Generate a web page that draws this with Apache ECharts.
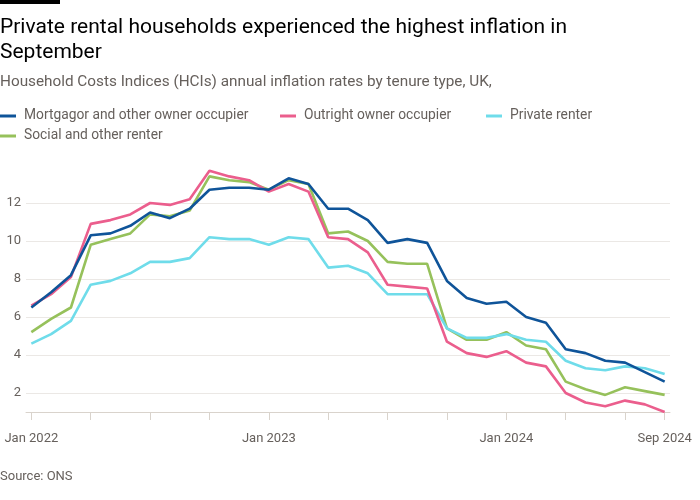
<!DOCTYPE html>
<html><head><meta charset="utf-8">
<script src="https://cdn.jsdelivr.net/npm/echarts@6/dist/echarts.min.js"></script>
<style>html,body{margin:0;padding:0;background:#fff}#c{width:700px;height:500px}</style>
</head><body><div id="c"></div>
<script>
const months = ["Jan 2022","Feb 2022","Mar 2022","Apr 2022","May 2022","Jun 2022","Jul 2022","Aug 2022","Sep 2022","Oct 2022","Nov 2022","Dec 2022",
"Jan 2023","Feb 2023","Mar 2023","Apr 2023","May 2023","Jun 2023","Jul 2023","Aug 2023","Sep 2023","Oct 2023","Nov 2023","Dec 2023",
"Jan 2024","Feb 2024","Mar 2024","Apr 2024","May 2024","Jun 2024","Jul 2024","Aug 2024","Sep 2024"];
const mortgagor = [6.5,7.3,8.2,10.3,10.4,10.8,11.5,11.2,11.7,12.7,12.8,12.8,12.7,13.3,13.0,11.7,11.7,11.1,9.9,10.1,9.9,7.9,7.0,6.7,6.8,6.0,5.7,4.3,4.1,3.7,3.6,3.1,2.6];
const outright = [6.6,7.2,8.1,10.9,11.1,11.4,12.0,11.9,12.2,13.7,13.4,13.2,12.6,13.0,12.6,10.2,10.1,9.4,7.7,7.6,7.5,4.7,4.1,3.9,4.2,3.6,3.4,2.0,1.5,1.3,1.6,1.4,1.0];
const privateRenter = [4.6,5.1,5.8,7.7,7.9,8.3,8.9,8.9,9.1,10.2,10.1,10.1,9.8,10.2,10.1,8.6,8.7,8.3,7.2,7.2,7.2,5.4,4.9,4.9,5.1,4.8,4.7,3.7,3.3,3.2,3.4,3.3,3.0];
const social = [5.2,5.9,6.5,9.8,10.1,10.4,11.4,11.3,11.6,13.4,13.2,13.1,12.7,13.2,13.0,10.4,10.5,10.0,8.9,8.8,8.8,5.4,4.8,4.8,5.2,4.5,4.3,2.6,2.2,1.9,2.3,2.1,1.9];
const yTicks = [2,4,6,8,10,12];
const xTickIdx = [0,3,6,9,12,15,18,21,24,27,30,32];
const xLabelIdx = [0,12,24,32];
const seriesNames = ["Mortgagor and other owner occupier","Outright owner occupier","Private renter","Social and other renter"];
const colors = ["#0f5499","#eb5e8d","#6fdcea","#96c15b"];
const seriesData = [mortgagor, outright, privateRenter, social];
const zOrder = [5,4,3,2];

const FONT = 'Roboto';
const grey = '#66605c';
const chart = echarts.init(document.getElementById('c'));
const legendLefts = [[0,109],[280,109],[486,109],[0,129]];
chart.setOption({
  animation:false,
  backgroundColor:'#fff',
  textStyle:{fontFamily:FONT},
  graphic:[{type:'rect',shape:{x:0,y:0,width:60,height:4},style:{fill:'#000'}}],
  title:[
    {text:'Private rental households experienced the highest inflation in\nSeptember',left:0,top:15,padding:0,
     textStyle:{fontFamily:FONT,fontSize:21,fontWeight:'normal',color:'#000',lineHeight:25}},
    {text:'Household Costs Indices (HCIs) annual inflation rates by tenure type, UK,',left:0,top:75,padding:0,
     textStyle:{fontFamily:FONT,fontSize:15.3,fontWeight:'normal',color:grey}},
    {text:'Source: ONS',left:0,top:470,padding:0,textStyle:{fontFamily:FONT,fontSize:13,fontWeight:'normal',color:grey}}
  ],
  legend: seriesNames.map((n,i)=>({data:[n],left:legendLefts[i][0],top:legendLefts[i][1],padding:0,
    icon:'rect',itemWidth:16,itemHeight:3,itemGap:0,
    textStyle:{fontFamily:FONT,fontSize:13.8,color:grey,padding:[0,0,0,3]}})),
  grid:{left:26,right:30,top:165,bottom:88,outerBoundsMode:'none',containLabel:false},
  xAxis:{type:'value',min:-0.27,max:32.27,
    axisLine:{show:true,lineStyle:{color:'#d9d3cc',width:1}},
    axisTick:{show:true,length:8,lineStyle:{color:'#d9d3cc'},customValues:xTickIdx},
    axisLabel:{customValues:xLabelIdx,formatter:v=>months[Math.round(v)],color:grey,fontSize:13,margin:20,fontFamily:FONT},
    splitLine:{show:false}},
  yAxis:{type:'value',min:1,max:14,
    axisLine:{show:false},axisTick:{show:false,customValues:yTicks},
    axisLabel:{customValues:yTicks,color:grey,fontSize:13,margin:5,fontFamily:FONT},
    splitLine:{show:true,lineStyle:{color:'#ebe8e5',width:1}}},
  series: seriesNames.map((n,i)=>({name:n,type:'line',data:seriesData[i].map((v,j)=>[j,v]),
    showSymbol:false,symbol:'none',z:zOrder[i],lineStyle:{width:2.6,color:colors[i]},itemStyle:{color:colors[i]}}))
});
</script></body></html>
